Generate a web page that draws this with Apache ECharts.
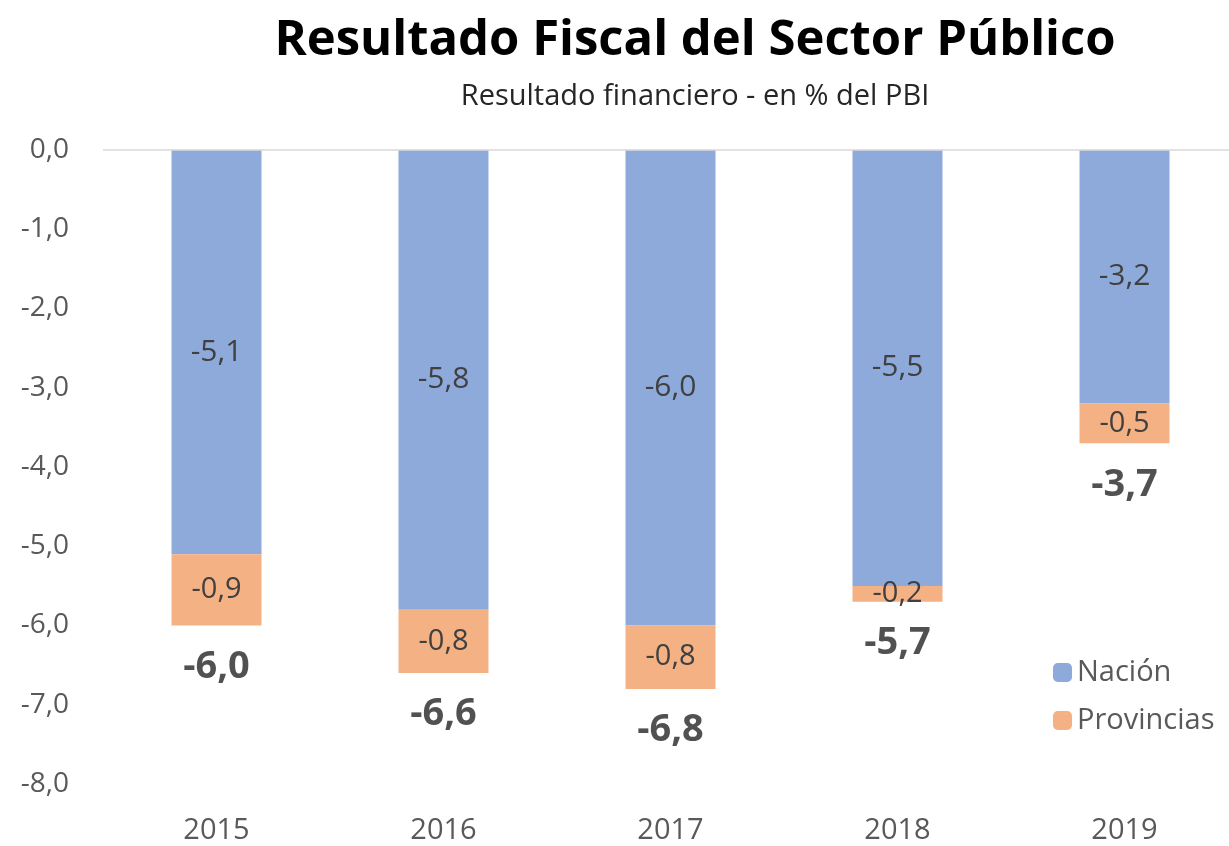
<!DOCTYPE html>
<html>
<head>
<meta charset="utf-8">
<script src="https://cdn.jsdelivr.net/npm/echarts@6/dist/echarts.min.js"></script>
<style>
  html, body { margin: 0; padding: 0; background: #fff; }
  #chart { width: 1229px; height: 846px; }
</style>
</head>
<body>
<div id="chart"></div>
<script>
const years = ['2015', '2016', '2017', '2018', '2019'];
const nacion = [-5.1, -5.8, -6.0, -5.5, -3.2];
const provincias = [-0.9, -0.8, -0.8, -0.2, -0.5];
const totales = [-6.0, -6.6, -6.8, -5.7, -3.7];

const fmt = (v) => Number(v).toFixed(1).replace('.', ',');
const font = 'Open Sans';

const chart = echarts.init(document.getElementById('chart'));

const option = {
  animation: false,
  title: {
    text: 'Resultado Fiscal del Sector Público',
    subtext: 'Resultado financiero - en % del PBI',
    left: 690,
    textAlign: 'center',
    top: 12,
    itemGap: 16,
    textStyle: { fontFamily: font, fontSize: 49, fontWeight: 'bold', color: '#000' },
    subtextStyle: { fontFamily: font, fontSize: 29, color: '#262626' }
  },
  legend: {
    orient: 'vertical',
    left: 1048,
    top: 653,
    itemWidth: 19,
    itemHeight: 19,
    itemGap: 19,
    data: ['Nación', 'Provincias'],
    textStyle: { fontFamily: font, fontSize: 29, color: '#595959' }
  },
  grid: { left: 103, width: 1135, top: 150, height: 634, outerBoundsMode: 'none' },
  xAxis: {
    type: 'category',
    data: years,
    axisLine: { show: false },
    axisTick: { show: false },
    axisLabel: { fontFamily: font, fontSize: 29, color: '#595959', margin: 32 }
  },
  yAxis: {
    type: 'value',
    min: -8,
    max: 0,
    interval: 1,
    splitLine: { show: false },
    axisLabel: { fontFamily: font, fontSize: 28, color: '#595959', margin: 34, formatter: fmt }
  },
  series: [
    {
      name: 'Nación',
      type: 'bar',
      stack: 'total',
      barWidth: 90,
      data: nacion,
      itemStyle: { color: '#8eaadb' },
      label: {
        show: true,
        position: 'inside',
        formatter: (p) => fmt(p.value),
        fontFamily: font,
        fontSize: 30,
        color: '#404040'
      },
      markLine: {
        silent: true,
        symbol: 'none',
        label: { show: false },
        lineStyle: { color: '#d9d9d9', type: 'solid', width: 1.5 },
        data: [{ yAxis: 0 }]
      }
    },
    {
      name: 'Provincias',
      type: 'bar',
      stack: 'total',
      barWidth: 90,
      data: provincias,
      itemStyle: { color: '#f4b183' },
      label: {
        show: true,
        position: 'inside',
        formatter: (p) => fmt(p.value),
        fontFamily: font,
        fontSize: 29,
        color: '#404040'
      }
    },
    {
      name: 'Total',
      type: 'scatter',
      data: totales,
      symbolSize: 1,
      itemStyle: { color: 'transparent' },
      label: {
        show: true,
        position: 'bottom',
        distance: 22,
        formatter: (p) => fmt(p.value),
        fontFamily: font,
        fontSize: 38,
        fontWeight: 'bold',
        color: '#262626'
      }
    }
  ]
};

chart.setOption(option);
</script>
</body>
</html>
